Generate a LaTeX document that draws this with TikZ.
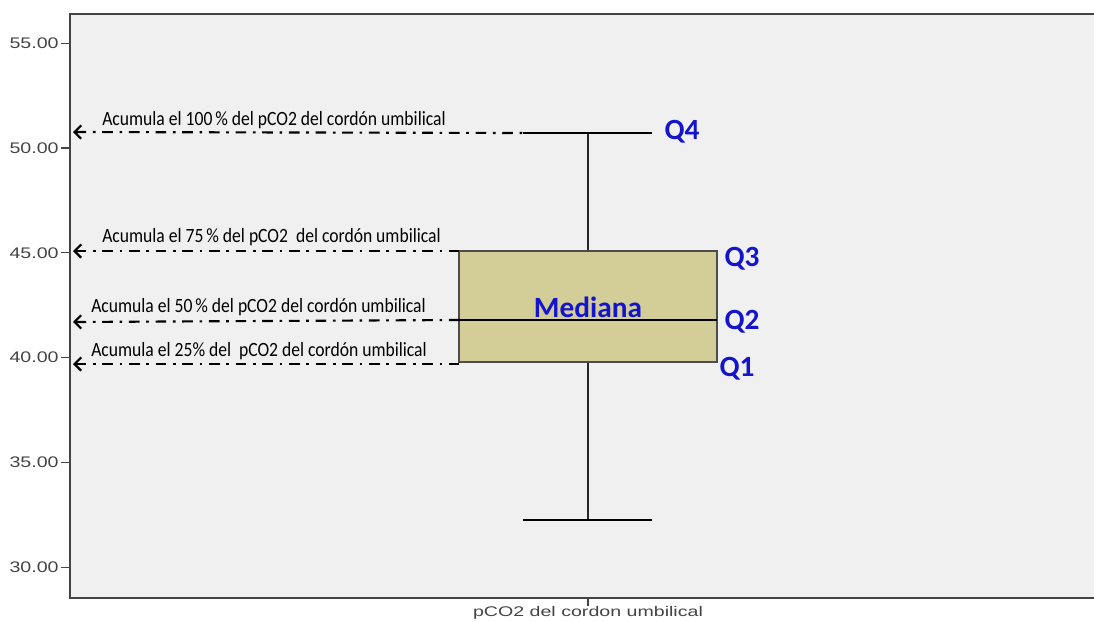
\documentclass[tikz,border=0pt]{standalone}
\usepackage{fontspec}
\setmainfont{Carlito}
\newfontfamily\axisfont{Liberation Sans}
\usetikzlibrary{calc,arrows.meta}

\definecolor{plotbg}{HTML}{F0F0F0}
\definecolor{boxfill}{HTML}{D3CE98}
\definecolor{qblue}{HTML}{1414CC}
\definecolor{axisgray}{HTML}{444444}

\tikzset{
  quart/.style={font=\fontsize{22}{23}\selectfont\bfseries, text=qblue, inner sep=0pt},
  acum/.style={font=\fontsize{13.2}{14}\selectfont, anchor=base west, inner sep=0pt, yscale=1.15},
  guide/.style={{Straight Barb[length=5pt,width=10pt]}-, line width=1.6pt, dash pattern=on 8pt off 5pt on 2pt off 5pt},
  ticklab/.style={font=\axisfont\fontsize{11.5}{12}\selectfont, text=axisgray, anchor=east, xscale=1.28, inner sep=0pt},
  whisk/.style={line width=1.3pt, black!85}
}

\begin{document}
\begin{tikzpicture}[x=0.75pt,y=-0.75pt]
  \fill[white] (0,0) rectangle (1094,621);
  \useasboundingbox (0,0) rectangle (1094,621);
  % plot area
  \fill[plotbg] (70,14) rectangle (1094,598);
  \draw[axisgray, line width=1.5pt] (1094,14) -- (70,14) -- (70,598) -- (1094,598);
  \foreach \v in {30,35,...,55}{
    \draw[axisgray, line width=1pt] (61,{148-(\v-50)*20.96}) -- (70,{148-(\v-50)*20.96});
    \node[ticklab] at (59,{148-(\v-50)*20.96}) {\v.00};
  }
  \draw[axisgray, line width=1pt] (588,598) -- (588,606);
  \node[font=\axisfont\fontsize{10.5}{11}\selectfont, text=axisgray, xscale=1.4, anchor=north, inner sep=0pt] (xlab) at (588,606) {pCO2 del cordon umbilical};

  % box and whiskers
  \coordinate (max) at (588,133);
  \coordinate (min) at (588,520);
  \coordinate (q3l) at (459,251);
  \coordinate (q1r) at (717,362);
  \coordinate (medl) at (459,320);
  \coordinate (medr) at (717,320);
  \coordinate (q4l) at (523,133);
  \draw[whisk] (max) -- (588,251);
  \draw[whisk] (588,362) -- (min);
  \draw[line width=1.6pt] (q4l) -- (652,133);
  \draw[line width=2.2pt] (523,520) -- (652,520);
  \draw[fill=boxfill, draw=black!70, line width=1pt] (q3l) rectangle (q1r);
  \draw[line width=2.2pt] (medl) -- (medr);

  % quartile labels
  \node[quart] (mediana) at (588,307) {Mediana};
  \node[quart] (Q4) at (682,132) {Q4};
  \node[quart] (Q3) at (742,259) {Q3};
  \node[quart] (Q2) at (742,322) {Q2};
  \node[quart] (Q1) at (737,369) {Q1};

  % cumulative guides
  \coordinate (a4) at (73,132);
  \coordinate (a3) at (73,251);
  \coordinate (a2) at (73,322);
  \coordinate (a1) at (73,364);
  \draw[guide] (a4) -- (q4l);
  \draw[guide] (a3) -- (q3l);
  \draw[guide] (a2) -- (medl);
  \draw[guide] (a1) -- (459,364);
  \node[acum] (t4) at (102,125) {Acumula el 100\,\% del pCO2 del cordón umbilical};
  \node[acum] (t3) at (102,242) {Acumula el 75\,\% del pCO2\ \ del cordón umbilical};
  \node[acum] (t2) at (91,312) {Acumula el 50\,\% del pCO2 del cordón umbilical};
  \node[acum] (t1) at (91,356) {Acumula el 25\% del\ \ pCO2 del cordón umbilical};
\end{tikzpicture}
\end{document}
